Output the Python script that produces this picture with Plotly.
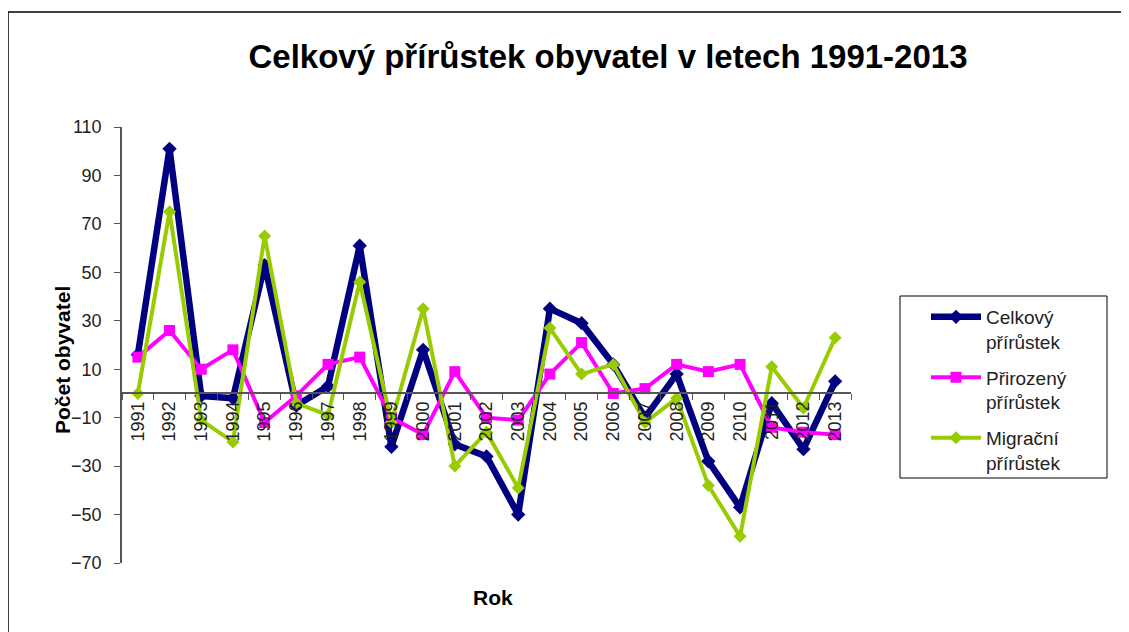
import plotly.graph_objects as go

years = [str(y) for y in range(1991, 2014)]
celkovy = [16, 101, -1, -2, 53, -5, 3, 61, -22, 18, -21, -26, -50, 35, 29, 12, -10, 8, -28, -47, -4, -23, 5]
prirozeny = [15, 26, 10, 18, -12, -1, 12, 15, -10, -17, 9, -10, -11, 8, 21, 0, 2, 12, 9, 12, -14, -16, -17]
migracni = [0, 75, -11, -20, 65, -4, -9, 46, -12, 35, -30, -16, -39, 27, 8, 12, -12, -2, -38, -59, 11, -6, 23]

y_ticks = list(range(-70, 111, 20))
y_min, y_max = -70, 110

OFF = 8  # page body margin
W, H = 1129 - OFF, 632 - OFF
L, R, T, B = 122 - OFF, 851 - OFF, 127 - OFF, 563 - OFF  # plot area box in figure px

def px_x(p):
    return (p - OFF - L) / (R - L)

def px_y(p):
    return (B - (p - OFF)) / (B - T)

font_family = "Arial, Liberation Sans, sans-serif"

fig = go.Figure()
fig.add_trace(go.Scatter(
    x=years, y=celkovy, name="Celkový<br>přírůstek", mode="lines+markers",
    line=dict(color="#000080", width=6.5), marker=dict(symbol="diamond", size=11, color="#000080"),
    legendgroup="a"))
fig.add_trace(go.Scatter(
    x=years, y=prirozeny, name="Přirozený<br>přírůstek", mode="lines+markers",
    line=dict(color="#FF00FF", width=4), marker=dict(symbol="square", size=11, color="#FF00FF"),
    legendgroup="b"))
fig.add_trace(go.Scatter(
    x=years, y=migracni, name="Migrační<br>přírůstek", mode="lines+markers",
    line=dict(color="#99CC00", width=4), marker=dict(symbol="diamond", size=10, color="#99CC00"),
    legendgroup="c"))

zero_pos = (0 - y_min) / (y_max - y_min)

fig.update_layout(
    width=W, height=H,
    margin=dict(l=L, r=W - R, t=T, b=H - B, pad=0),
    paper_bgcolor="white", plot_bgcolor="white",
    font=dict(family=font_family, size=18, color="#222222"),
    title=dict(text="<b>Celkový přírůstek obyvatel v letech 1991-2013</b>",
               font=dict(size=33, color="black", family=font_family),
               x=px_x(608), xref="paper", xanchor="center",
               y=1 - (56 - OFF) / H, yref="container", yanchor="middle"),
    showlegend=True,
    legend=dict(x=px_x(926), y=px_y(298), xanchor="left", yanchor="top",
                borderwidth=0, bgcolor="rgba(0,0,0,0)", valign="top",
                font=dict(size=19, color="#222222", family=font_family),
                tracegroupgap=8, itemwidth=50),
    xaxis=dict(type="category", range=[-0.5, 22.5], anchor="free", position=zero_pos,
               showline=True, linecolor="#555555", linewidth=1.5,
               ticks="outside", tickson="boundaries", ticklen=6, tickcolor="#555555",
               tickangle=-90, showgrid=False, zeroline=False,
               tickfont=dict(size=18, color="#222222")),
    yaxis=dict(range=[y_min, y_max], tickvals=y_ticks, showline=True, linecolor="#555555",
               linewidth=1.5, ticks="outside", ticklen=6, tickcolor="#555555",
               ticklabelstandoff=9,
               showgrid=False, zeroline=False, tickfont=dict(size=18, color="#222222")),
    annotations=[
        dict(text="<b>Počet obyvatel</b>", x=px_x(62), y=px_y(360), xref="paper", yref="paper",
             textangle=-90, showarrow=False, font=dict(size=21, color="black"),
             xanchor="center", yanchor="middle"),
        dict(text="<b>Rok</b>", x=px_x(493), y=px_y(597), xref="paper", yref="paper",
             showarrow=False, font=dict(size=21, color="black"),
             xanchor="center", yanchor="middle"),
    ],
    shapes=[
        dict(type="line", xref="paper", yref="paper", x0=px_x(8), x1=px_x(1135),
             y0=px_y(12), y1=px_y(12), line=dict(color="black", width=1.5)),
        dict(type="line", xref="paper", yref="paper", x0=px_x(8), x1=px_x(8),
             y0=px_y(12), y1=px_y(640), line=dict(color="black", width=1.5)),
        dict(type="rect", xref="paper", yref="paper", x0=px_x(900), x1=px_x(1107),
             y0=px_y(478), y1=px_y(296), line=dict(color="black", width=1),
             fillcolor="rgba(0,0,0,0)", layer="below"),
    ],
)

fig.write_html("out.html")
